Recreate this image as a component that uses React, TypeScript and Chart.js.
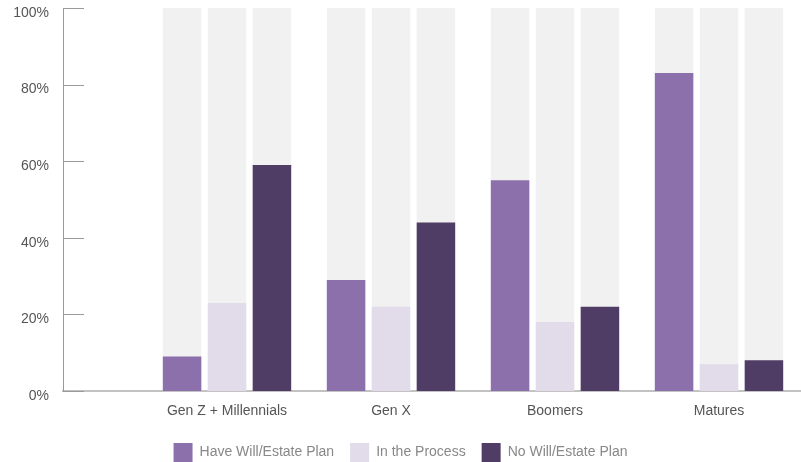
import React, { useEffect, useRef } from 'react';
import { Chart, registerables } from 'chart.js';

Chart.register(...registerables);

const categories = ['Gen Z + Millennials', 'Gen X', 'Boomers', 'Matures'];
const seriesLabels = ['Have Will/Estate Plan', 'In the Process', 'No Will/Estate Plan'];
const haveWill = [9, 29, 55, 83];
const inProcess = [23, 22, 18, 7];
const noWill = [59, 44, 22, 8];
const fullBackground = [100, 100, 100, 100];
const yTickValues = [0, 20, 40, 60, 80, 100];

const seriesColors = ['#8b70ab', '#e1dbea', '#4f3d65'];
const bgColor = '#f0f1f0';
const FONT = "'Liberation Sans', Arial, Helvetica, sans-serif";

const toPoints = (arr: number[]) => arr.map((v, i) => ({ x: i + 1, y: v }));

const innerTicks = {
  id: 'innerTicks',
  afterDatasetsDraw(chart: any) {
    const y = chart.scales.y;
    const { left } = chart.chartArea;
    const ctx = chart.ctx;
    ctx.save();
    ctx.strokeStyle = '#9a9a9a';
    ctx.lineWidth = 1;
    yTickValues.forEach((v) => {
      const py = Math.round(y.getPixelForValue(v)) + 0.5;
      ctx.beginPath();
      ctx.moveTo(left, py);
      ctx.lineTo(left + 21, py);
      ctx.stroke();
    });
    ctx.restore();
  },
};

export default function App() {
  const ref = useRef<HTMLCanvasElement | null>(null);

  useEffect(() => {
    if (!ref.current) return;
    const common = {
      barPercentage: 0.857,
      categoryPercentage: 0.822,
      borderWidth: 0,
    };
    const chart = new Chart(ref.current, {
      type: 'bar',
      data: {
        datasets: [
          { label: seriesLabels[0], data: toPoints(haveWill), backgroundColor: seriesColors[0], stack: 's1', order: 1, ...common },
          { label: seriesLabels[1], data: toPoints(inProcess), backgroundColor: seriesColors[1], stack: 's2', order: 1, ...common },
          { label: seriesLabels[2], data: toPoints(noWill), backgroundColor: seriesColors[2], stack: 's3', order: 1, ...common },
          { label: 'bg1', data: toPoints(fullBackground), backgroundColor: bgColor, stack: 's1', order: 2, ...common },
          { label: 'bg2', data: toPoints(fullBackground), backgroundColor: bgColor, stack: 's2', order: 2, ...common },
          { label: 'bg3', data: toPoints(fullBackground), backgroundColor: bgColor, stack: 's3', order: 2, ...common },
        ],
      },
      options: {
        animation: false,
        responsive: false,
        maintainAspectRatio: false,
        layout: { padding: { top: 8, right: 0, bottom: 0, left: 0 } },
        scales: {
          x: {
            type: 'linear',
            position: 'bottom',
            min: 0,
            max: 4.5,
            offset: false,
            afterBuildTicks: (scale: any) => {
              scale.ticks = categories.map((_, i) => ({ value: i + 1 }));
            },
            afterFit: (scale: any) => {
              scale.height = 36;
            },
            grid: { display: false, drawTicks: false, offset: false },
            border: { display: true, color: '#c2c2c2', width: 2 },
            ticks: {
              padding: 12,
              color: '#555',
              font: { family: FONT, size: 14 },
              maxRotation: 0,
              autoSkip: false,
              callback: (v: any) => categories[Number(v) - 1] ?? '',
            },
          },
          y: {
            min: 0,
            max: 100,
            stacked: false,
            afterBuildTicks: (scale: any) => {
              scale.ticks = yTickValues.map((v) => ({ value: v }));
            },
            afterFit: (scale: any) => {
              scale.width = 63;
              scale.paddingTop = 0;
              scale.paddingBottom = 0;
            },
            grid: { display: false, drawTicks: false },
            border: { display: true, color: '#9a9a9a', width: 1 },
            ticks: {
              padding: 14,
              labelOffset: 5,
              color: '#555',
              font: { family: FONT, size: 14 },
              callback: (v: any) => v + '%',
            },
          },
        },
        plugins: {
          legend: {
            position: 'bottom',
            labels: {
              boxWidth: 19,
              boxHeight: 19,
              padding: 16,
              color: '#888',
              font: { family: FONT, size: 14 },
              filter: (item: any) => item.datasetIndex < 3,
            },
          },
          tooltip: { enabled: false },
        },
      },
      plugins: [innerTicks],
    } as any);
    return () => chart.destroy();
  }, []);

  return (
    <div style={{ position: 'fixed', left: 0, top: 0, width: 801, height: 472, background: '#fff' }}>
      <canvas ref={ref} width={801} height={472} style={{ display: 'block' }} />
    </div>
  );
}
